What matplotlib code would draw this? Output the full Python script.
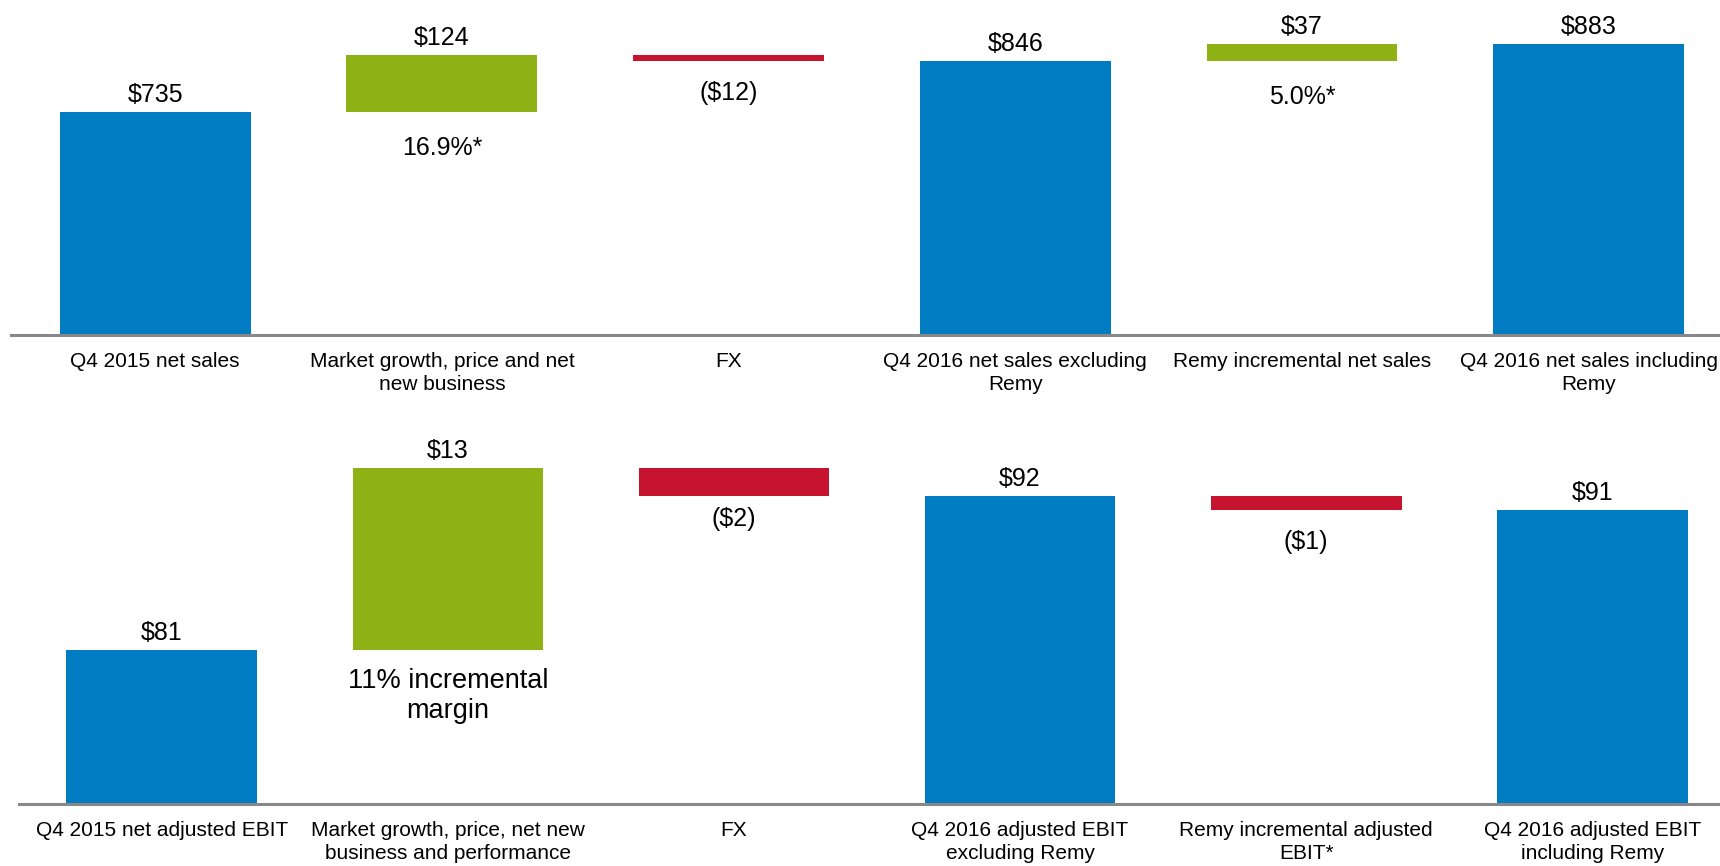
import numpy as np
import matplotlib
matplotlib.use('Agg')
import matplotlib.pyplot as plt

plt.rcParams['font.family'] = ['Liberation Sans', 'DejaVu Sans']

# top chart: net sales bridge
sales_labels = ['Q4 2015 net sales', 'Market growth, price and net\nnew business', 'FX',
                'Q4 2016 net sales excluding\nRemy', 'Remy incremental net sales',
                'Q4 2016 net sales including\nRemy']
sales_values = [735, 124, -12, 846, 37, 883]
sales_is_total = [True, False, False, True, False, True]
sales_text = ['$735', '$124', '($12)', '$846', '$37', '$883']
sales_notes = ['', '16.9%*', '', '', '5.0%*', '']

# bottom chart: adjusted EBIT bridge
ebit_labels = ['Q4 2015 net adjusted EBIT', 'Market growth, price, net new\nbusiness and performance', 'FX',
               'Q4 2016 adjusted EBIT\nexcluding Remy', 'Remy incremental adjusted\nEBIT*',
               'Q4 2016 adjusted EBIT\nincluding Remy']
ebit_values = [81, 13, -2, 92, -1, 91]
ebit_is_total = [True, False, False, True, False, True]
ebit_text = ['$81', '$13', '($2)', '$92', '($1)', '$91']
ebit_notes = ['', '11% incremental\nmargin', '', '', '', '']

blue = '#007cc2'
green = '#8eb116'
red = '#c61330'


def waterfall(ax, labels, values, is_total, texts, notes, note_size, note_off, neg_off):
    x = np.arange(len(values))
    running = 0
    for i, v in enumerate(values):
        if is_total[i]:
            bottom, height, col = 0, v, blue
            running = v
        else:
            bottom, height = running, v
            col = green if v > 0 else red
            running = running + v
        ax.bar(x[i], height, bottom=bottom, width=0.666, color=col, zorder=2)
        top = max(bottom, bottom + height)
        low = min(bottom, bottom + height)
        if v >= 0:
            ax.annotate(texts[i], (x[i], top), xytext=(0, 12.5), textcoords='offset points',
                        ha='center', va='center', fontsize=18, annotation_clip=False)
        else:
            ax.annotate(texts[i], (x[i], low), xytext=(0, -neg_off[i]), textcoords='offset points',
                        ha='center', va='center', fontsize=18, annotation_clip=False)
        if notes[i]:
            ax.annotate(notes[i], (x[i], low), xytext=(0, -note_off), textcoords='offset points',
                        ha='center', va='top', fontsize=note_size, linespacing=1.2,
                        annotation_clip=False)
    ax.set_xticks(x)
    ax.set_xticklabels(labels, fontsize=15, linespacing=1.3)
    ax.tick_params(axis='x', length=0, pad=12)
    ax.set_yticks([])
    for s in ['top', 'left', 'right']:
        ax.spines[s].set_visible(False)
    ax.spines['bottom'].set_color('#888888')
    ax.spines['bottom'].set_linewidth(2.2)


fig = plt.figure(figsize=(17.2, 8.66), dpi=100)

ax1 = fig.add_axes([0.0064, 0.6132, 0.9936, 0.3753])
waterfall(ax1, sales_labels, sales_values, sales_is_total, sales_text, sales_notes,
          18, 17.5, [0, 0, 23.5, 0, 0, 0])
ax1.set_xlim(-0.503, 5.458)
ax1.set_ylim(250, 957)

ax2 = fig.add_axes([0.0108, 0.0716, 0.9892, 0.4203])
waterfall(ax2, ebit_labels, ebit_values, ebit_is_total, ebit_text, ebit_notes,
          19.5, 13, [0, 0, 16.5, 0, 23, 0])
ax2.set_xlim(-0.5, 5.446)
ax2.set_ylim(70, 96)

fig.savefig('out.png', dpi=100)
